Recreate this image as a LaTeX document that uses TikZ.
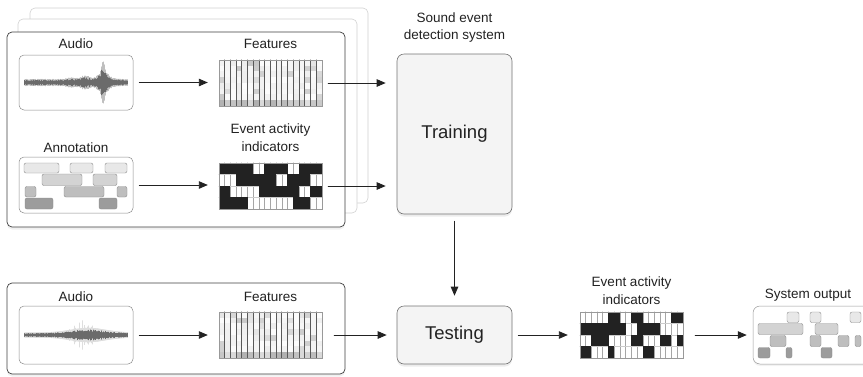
\documentclass[tikz,border=0pt]{standalone}
\usepackage{fontspec}
\setmainfont{Liberation Sans}
\usetikzlibrary{positioning,arrows.meta,shadows}

\definecolor{boxfill}{HTML}{F4F4F4}
\definecolor{evtA}{HTML}{E8E8E8}
\definecolor{evtB}{HTML}{D3D3D3}
\definecolor{evtC}{HTML}{BEBEBE}
\definecolor{evtD}{HTML}{9C9C9C}
\definecolor{inkgray}{HTML}{222222}

\tikzset{
  panel/.style={draw=black!75, rounded corners=5pt, fill=white, line width=0.7pt, inner sep=0pt,
    drop shadow={shadow xshift=0pt, shadow yshift=-2.5pt, opacity=0.12}},
  ghost/.style={draw=black!18, rounded corners=5pt, fill=white, line width=0.6pt, inner sep=0pt},
  sigbox/.style={draw=black!45, rounded corners=5pt, fill=white, line width=0.5pt, inner sep=0pt},
  sysbox/.style={draw=black!55, rounded corners=7pt, fill=boxfill, line width=0.6pt, inner sep=0pt,
    font=\fontsize{18.5}{22}\selectfont, text=inkgray,
    drop shadow={shadow xshift=0pt, shadow yshift=-2.5pt, opacity=0.15}},
  gridbox/.style={draw=black!40, line width=0.4pt, inner sep=0pt, minimum width=103pt, minimum height=46pt},
  lbl/.style={font=\fontsize{13.5}{17.5}\selectfont, text=inkgray, align=center, inner sep=0pt},
  arr/.style={draw=inkgray, line width=0.9pt, -{Triangle[length=9pt,width=7.5pt]}},
  evt/.style={draw=black!45, line width=0.4pt, rounded corners=2pt},
}

\begin{document}
\begin{tikzpicture}[x=1pt,y=-1pt,line cap=round,line join=round]
\useasboundingbox (0,0) rectangle (863,376);

% training data stack
\node[ghost, minimum width=338pt, minimum height=195pt] (stack2) at (199,105.5) {};
\node[ghost, minimum width=339pt, minimum height=194pt] (stack1) at (187.5,116) {};
\node[panel, minimum width=338pt, minimum height=195pt] (inpanel1) at (176,129.5) {};

\node[sigbox, minimum width=114pt, minimum height=55pt] (audio1) at (76,82.5) {};
\node[sigbox, minimum width=114pt, minimum height=56pt] (annot) at (76,185) {};
\node[gridbox] (feat1) at (270.5,83) {};
\node[gridbox] (ind1) at (270.5,186) {};

\node[lbl, above=6pt of audio1] (audiolbl1) {Audio};
\node[lbl, above=4pt of annot] (annotlbl) {Annotation};
\node[lbl, above=11pt of feat1] (featlbl1) {Features};
\node[lbl, above=11pt of ind1] (indlbl1) {Event activity\\indicators};

% system
\node[sysbox, minimum width=115pt, minimum height=160pt] (train) at (454.5,134) {Training};
\node[lbl, above=11pt of train] (syslbl) {Sound event\\detection system};
\node[sysbox, minimum width=115pt, minimum height=58pt] (test) at (454.5,335) {Testing};

% test data
\node[panel, minimum width=338pt, minimum height=91pt] (inpanel2) at (176,328.5) {};
\node[sigbox, minimum width=114pt, minimum height=58pt] (audio2) at (76,335) {};
\node[gridbox] (feat2) at (270.5,335) {};
\node[lbl, above=4pt of audio2] (audiolbl2) {Audio};
\node[lbl, above=10pt of feat2] (featlbl2) {Features};

\node[gridbox] (ind2) at (631.5,335) {};
\node[lbl, above=7pt of ind2] (indlbl2) {Event activity\\indicators};
\node[sigbox, draw=black!40, rounded corners=7pt, minimum width=120pt, minimum height=58pt,
  drop shadow={shadow xshift=0pt, shadow yshift=-2pt, opacity=0.1}] (sysout) at (813,335) {};
\node[lbl, above=4pt of sysout, xshift=-5pt] (outlbl) {System output};

% waveforms
\begin{scope}[shift={(audio1.center)}]
  \pgfmathsetseed{7}
  \foreach \i in {0,...,206} {
    \pgfmathsetmacro\xx{-51.5+0.5*\i}
    \pgfmathsetmacro\env{2.6+16*exp(-abs(\xx-27)/3.5)+3*exp(-((\xx-9)/5)^2)+1.2*exp(-((\xx+5)/6)^2)}
    \pgfmathsetmacro\hh{\env*(0.55+0.45*rnd)}
    \pgfmathsetmacro\hl{\env*(0.9+0.4*rnd)}
    \draw[black!25, line width=0.5pt] (\xx,-\hl) -- (\xx,\hl);
    \draw[black!58, line width=0.5pt] (\xx,-\hh) -- (\xx,\hh);
  }
\end{scope}
\begin{scope}[shift={(audio2.center)}]
  \pgfmathsetseed{11}
  \foreach \i in {0,...,206} {
    \pgfmathsetmacro\xx{-51.5+0.5*\i}
    \pgfmathsetmacro\env{1.8+3.5*exp(-((\xx-12)/24)^2)}
    \pgfmathsetmacro\hh{\env*(0.6+0.4*rnd)}
    \pgfmathsetmacro\hl{\env*1.3+16*exp(-((\xx-8)/9)^2)*rnd^9}
    \draw[black!13, line width=0.5pt] (\xx,-\hl) -- (\xx,\hl);
    \draw[black!58, line width=0.5pt] (\xx,-\hh) -- (\xx,\hh);
  }
\end{scope}

% annotation and output events
\foreach \xa/\ya/\xb/\yb/\col in {24/163/59/173/evtA, 70/163/93/173/evtA, 105/163/127/173/evtA,
    42/174/82/185.5/evtB, 93/174/117/185.5/evtB,
    25/186.5/36/197/evtC, 64/186.5/104/197/evtC, 117/186.5/127/197/evtC,
    25/198/53/209/evtD, 99/198/117/209/evtD,
    787/312/799/322.5/evtA, 810/312/821/322.5/evtA, 850/312/861/322.5/evtA,
    758/323.5/803/334.5/evtB, 815/323.5/838/334.5/evtB,
    770/335.5/786/346.5/evtC, 810/335.5/821/346.5/evtC, 838/335.5/849/346.5/evtC, 855/335.5/861/346.5/evtC,
    758/347.5/770/358/evtD, 786/347.5/792/358/evtD, 821/347.5/832/358/evtD}
  \draw[evt, fill=\col] (\xa,\ya) rectangle (\xb,\yb);

% feature grids
\foreach \fg/\seed in {feat1/3, feat2/5} {
  \begin{scope}[shift={(\fg.north west)}]
    \pgfmathsetseed{\seed}
    \foreach \c in {0,...,17} \foreach \r in {0,...,7} {
      \pgfmathtruncatemacro\g{\r==7 ? 12+20*rnd : (rnd>0.85 ? 10+12*rnd : 1+7*rnd)}
      \fill[black!\g] (\c*5.722,\r*5.75) rectangle ++(5.722,5.75);
    }
    \foreach \c in {1,...,17} \draw[black!65, line width=0.5pt] (\c*5.722,0) -- (\c*5.722,46);
    \draw[black!40, line width=0.4pt] (0,0) rectangle (103,46);
  \end{scope}
}

% event activity grids
\foreach \ig/\rows in {
    ind1/{{1,1,1,1,1,1,0,0,1,1,1,1,0,0,1,1,1,1},{0,0,0,1,1,1,1,1,1,1,0,0,1,1,1,1,0,0},{1,1,0,0,0,0,0,1,1,1,1,1,1,1,0,0,1,1},{1,1,1,1,1,0,0,0,0,0,0,0,0,1,1,1,0,0}},
    ind2/{{0,0,0,0,0,1,1,0,0,1,1,0,0,0,0,0,1,1},{1,1,1,1,1,1,1,1,0,0,1,1,1,1,0,0,0,0},{0,0,1,1,1,0,0,0,0,1,1,0,0,0,1,1,0,1},{1,1,0,0,0,1,0,0,0,0,0,1,1,0,0,0,0,0}}} {
  \begin{scope}[shift={(\ig.north west)}]
    \foreach \c in {1,...,17} \draw[black!35, line width=0.4pt] (\c*5.722,0) -- (\c*5.722,46);
    \foreach \r in {1,2,3} \draw[black!20, line width=0.3pt] (0,\r*11.5) -- (103,\r*11.5);
    \foreach \row [count=\r from 0] in \rows {
      \foreach \v [count=\c from 0] in \row {
        \ifnum\v=1 \fill[inkgray] (\c*5.722-0.1,\r*11.5-0.1) rectangle ++(5.922,11.7); \fi
      }
    }
    \draw[black!40, line width=0.4pt] (0,0) rectangle (103,46);
  \end{scope}
}

% connectors
\draw[arr, shorten <=6pt, shorten >=11pt] (audio1.east) -- (audio1.east -| feat1.west);
\draw[arr, shorten <=6pt, shorten >=11pt] (annot.east) -- (annot.east -| ind1.west);
\draw[arr, shorten <=6pt, shorten >=11pt] (feat1.east) -- (feat1.east -| train.west);
\draw[arr, shorten <=6pt, shorten >=11pt] (ind1.east) -- (ind1.east -| train.west);
\draw[arr, shorten <=7pt, shorten >=10pt] (train) -- (test);
\draw[arr, shorten <=6pt, shorten >=11pt] (audio2.east) -- (audio2.east -| feat2.west);
\draw[arr, shorten <=12pt, shorten >=10pt] (feat2.east) -- (feat2.east -| test.west);
\draw[arr, shorten <=6pt, shorten >=12pt] (test.east) -- (test.east -| ind2.west);
\draw[arr, shorten <=12pt, shorten >=6pt] (ind2.east) -- (ind2.east -| sysout.west);
\end{tikzpicture}
\end{document}
